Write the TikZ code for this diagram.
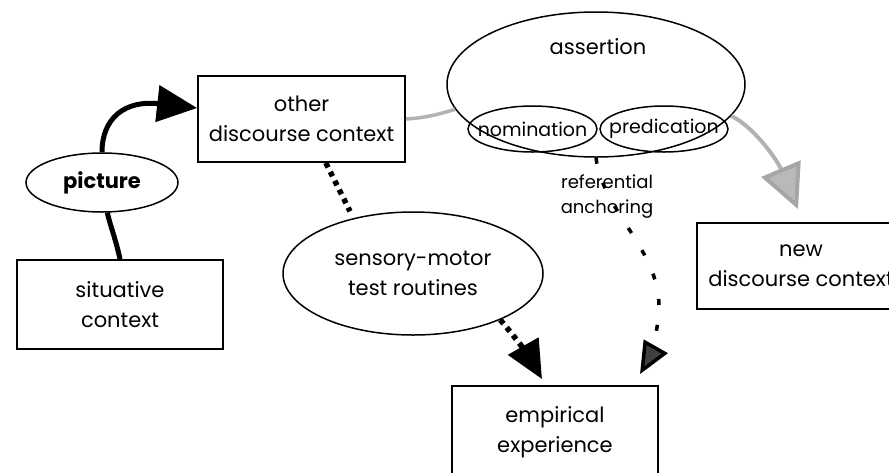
\documentclass[tikz,border=0pt]{standalone}
\usepackage{fontspec}
\setmainfont{Poppins}
\usetikzlibrary{shapes.geometric,arrows.meta,calc}

\begin{document}
\begin{tikzpicture}[x=1pt,y=-1pt,
  txt/.style={font=\fontsize{21}{30}\selectfont, align=center},
  smalltxt/.style={font=\fontsize{19}{25}\selectfont, align=center},
  boxnode/.style={draw, line width=1.8pt, rectangle, inner sep=0pt, txt},
  oval/.style={draw, line width=1.5pt, ellipse, inner sep=0pt, txt},
  heavy/.style={line width=5pt},
  dotline/.style={line width=5.5pt, dash pattern=on 5pt off 5pt},
  dashline/.style={line width=3.5pt, dash pattern=on 6pt off 20pt},
  greyline/.style={draw=gray!60, line width=3.5pt}
]
\useasboundingbox (0,0) rectangle (889,472);
\clip (0,0) rectangle (889,472);

% boxes
\node[boxnode, minimum width=207pt, minimum height=86pt] (other) at (301.5,119) {other\\discourse context};
\node[boxnode, minimum width=206pt, minimum height=89pt] (sit) at (120,304.5) {situative\\context};
\node[boxnode, minimum width=208pt, minimum height=86pt] (newctx) at (801,266) {new\\discourse context};
\node[boxnode, minimum width=206pt, minimum height=92pt] (emp) at (555,432) {empirical\\experience};

% ellipses (inner ones carry their text as a centred label so the size stays fixed)
\node[oval, minimum width=152pt, minimum height=59pt, font=\fontsize{21}{29}\selectfont\bfseries] (pic) at (102,182.5) {picture};
\node[oval, minimum width=298pt, minimum height=145pt] (assert) at (596,84.5) {};
\node[txt] (asserttxt) at (598,47) {assertion};
\node[oval, minimum width=129pt, minimum height=46pt, label={[smalltxt]center:nomination}] (nom) at (532.5,129) {};
\node[oval, minimum width=128pt, minimum height=46pt, label={[smalltxt]center:predication}] (pred) at (664,129) {};
\node[oval, minimum width=260pt, minimum height=123pt] (sens) at (413,273.5) {sensory-motor\\test routines};

% label of the anchoring link
\node[font=\fontsize{18}{25}\selectfont, align=center] (reflab) at (607,197) {referential\\anchoring};

% connectors
\draw[heavy] (sit.north) .. controls (116,240) and (110,225) .. (pic.-80);
\draw[heavy, -{Triangle[length=40pt,width=36pt]}] (pic.north) .. controls (102,118) and (125,100) .. (other.174);
\draw[greyline] (other.east) .. controls (425,118) and (440,114) .. (assert.190);
\draw[greyline, line width=4pt, -{Triangle[length=44pt,width=42pt,fill=gray!55,color=gray!70]}]
  (assert.347) .. controls (758,130) and (779,164) .. ($(newctx.north)+(-3,-13)$);
\draw[dotline] (other.-61) -- ($(sens.north)+(-63,0)$);
\draw[dotline, -{Triangle[length=38pt,width=34pt]}] (sens.-28) .. controls (512,333) and (530,358) .. ($(emp.north)+(-13,-6)$);
\draw[dashline, -{Triangle[length=32pt,width=27pt,fill=black!75]}]
  (assert.south) .. controls (603,215) and (668,255) .. (658,320)
  .. controls (655,345) and (648,360) .. ($(emp.north)+(85,-11)$);
\end{tikzpicture}
\end{document}
